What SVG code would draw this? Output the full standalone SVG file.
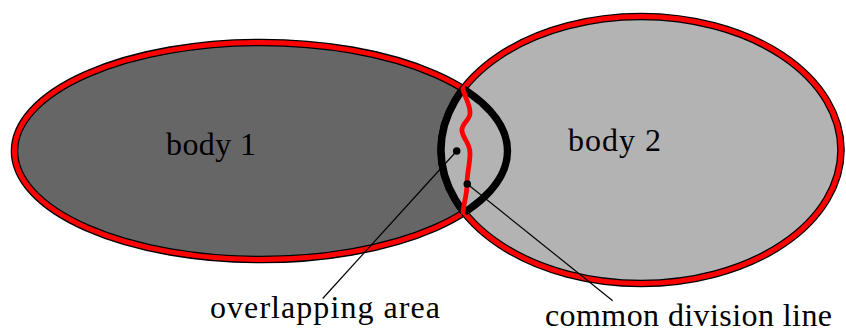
<svg xmlns="http://www.w3.org/2000/svg" width="846" height="333" viewBox="0 0 846 333">
  <style>
    .lbl { font-family: "Liberation Serif", "Times New Roman", serif; font-size: 32px; fill: #000; }
    .outline-k { fill: none; stroke: #000; stroke-width: 7.6; }
    .outline-r { fill: none; stroke: #ff0000; stroke-width: 5; }
    .inner-k { fill: none; stroke: #000; stroke-width: 7.4; }
    .leader { fill: none; stroke: #000; stroke-width: 1.2; }
  </style>
  <defs>
    <ellipse id="e1" cx="261" cy="151" rx="246.5" ry="108.5"/>
    <ellipse id="e2" cx="641" cy="150" rx="200" ry="133.5"/>
    <clipPath id="in1"><use href="#e1"/></clipPath>
    <clipPath id="in2"><use href="#e2"/></clipPath>
  </defs>

  <g id="body1">
    <use href="#e1" fill="#666666"/>
    <use href="#e1" class="outline-k"/>
    <use href="#e1" class="outline-r"/>
  </g>

  <g id="body2">
    <use href="#e2" fill="#b3b3b3"/>
    <use href="#e2" class="outline-k"/>
    <use href="#e2" class="outline-r"/>
  </g>

  <g id="overlap">
    <use href="#e2" fill="#b3b3b3" clip-path="url(#in1)"/>
    <use href="#e2" class="inner-k" clip-path="url(#in1)"/>
    <use href="#e1" class="inner-k" clip-path="url(#in2)"/>
  </g>

  <g id="division-line">
    <path d="M463,89 C465,98 471,106 470,114 C469,121 461,124 462,131 C463,139 470,143 470,153 C470,165 467,172 467,184 C467,195 464,202 463,212" fill="none" stroke="#ff0000" stroke-width="4.8" stroke-linecap="round"/>
  </g>

  <g id="connectors">
    <line class="leader" x1="456.7" y1="151" x2="322.7" y2="298.5"/>
    <line class="leader" x1="467.3" y1="184" x2="612.7" y2="300.7"/>
    <circle cx="456.7" cy="151" r="3.8" fill="#000"/>
    <circle cx="467.3" cy="184" r="3.8" fill="#000"/>
  </g>

  <g id="labels">
    <text class="lbl" x="166" y="154.5" textLength="90">body 1</text>
    <text class="lbl" x="568" y="151" textLength="93">body 2</text>
    <text id="label-overlap" class="lbl" x="210" y="317.5" textLength="230">overlapping area</text>
    <text id="label-division" class="lbl" x="545" y="326" textLength="287">common division line</text>
  </g>
</svg>
